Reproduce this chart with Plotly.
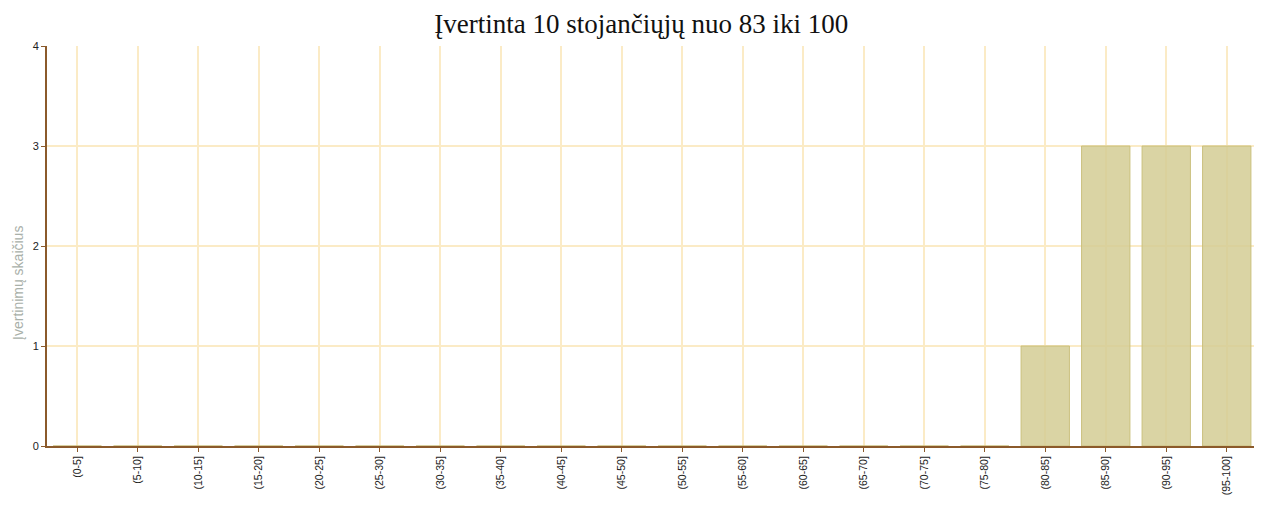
import plotly.graph_objects as go

categories = ["(0-5]", "(5-10]", "(10-15]", "(15-20]", "(20-25]", "(25-30]", "(30-35]",
              "(35-40]", "(40-45]", "(45-50]", "(50-55]", "(55-60]", "(60-65]", "(65-70]",
              "(70-75]", "(75-80]", "(80-85]", "(85-90]", "(90-95]", "(95-100]"]
counts = [0, 0, 0, 0, 0, 0, 0, 0, 0, 0, 0, 0, 0, 0, 0, 0, 1, 3, 3, 3]
y_ticks = [0, 1, 2, 3, 4]

title_text = "Įvertinta 10 stojančiųjų nuo 83 iki 100"
y_title = "Įvertinimų skaičius"

fig = go.Figure()
fig.add_trace(go.Bar(
    x=categories, y=counts,
    marker=dict(color="rgba(212,204,148,0.85)", line=dict(color="rgba(200,190,120,0.9)", width=1)),
    width=0.8,
))

fig.update_layout(
    width=1254, height=497,
    margin=dict(l=39, r=5, t=38, b=59),
    paper_bgcolor="white", plot_bgcolor="white",
    showlegend=False,
    title=dict(text=title_text, x=0.505, xanchor="center", y=0.969, yanchor="middle",
               font=dict(family="Liberation Serif", size=27, color="#111")),
    xaxis=dict(
        type="category", tickangle=-90,
        tickfont=dict(family="Liberation Sans", size=10.5, color="#222"),
        showgrid=True, gridcolor="#FBEBC6", gridwidth=1.5,
        showline=True, linecolor="#8B5A2B", linewidth=2,
        ticks="outside", tickcolor="#8B5A2B", ticklen=4, tickwidth=1,
        range=[-0.5, 19.5],
    ),
    yaxis=dict(
        range=[0, 4], tickvals=y_ticks,
        tickfont=dict(family="Liberation Sans", size=11, color="#222"),
        showgrid=True, gridcolor="#FBEBC6", gridwidth=1.5,
        showline=True, linecolor="#8B5A2B", linewidth=2,
        ticks="outside", tickcolor="#8B5A2B", ticklen=4, tickwidth=1,
        zeroline=False,
    ),
    annotations=[dict(
        text=y_title, textangle=-90, xref="paper", yref="paper",
        x=-0.024, y=0.4075, xanchor="center", yanchor="middle", showarrow=False,
        font=dict(family="Liberation Sans", size=14, color="#A9B0A9"),
    )],
)

fig.write_html("out.html")
